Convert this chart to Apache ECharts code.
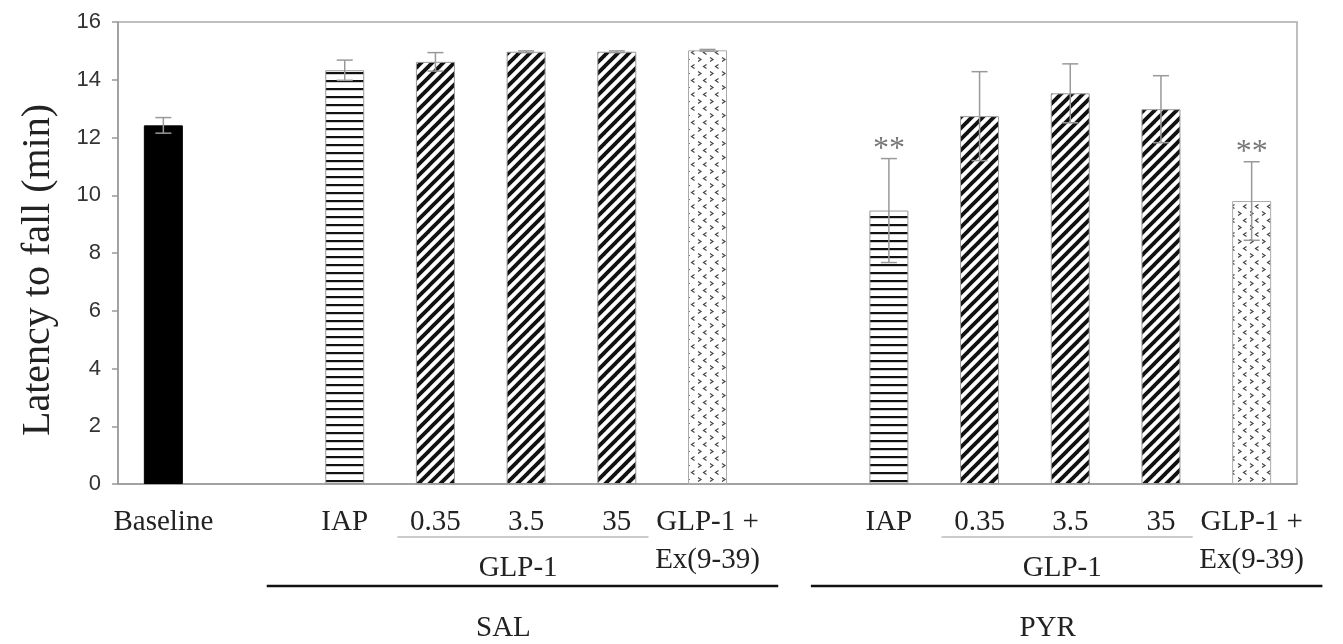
<!DOCTYPE html>
<html><head><meta charset="utf-8">
<script src="https://cdn.jsdelivr.net/npm/echarts@6/dist/echarts.min.js"></script>
<style>html,body{margin:0;padding:0;background:#fff}#c{width:1343px;height:644px}</style>
</head><body><div id="c"></div>
<script>
// ---- data ----
const categories = ['Baseline', '', 'IAP', '0.35', '3.5', '35', 'GLP-1 +\nEx(9-39)', '', 'IAP', '0.35', '3.5', '35', 'GLP-1 +\nEx(9-39)'];
const means = [12.42, null, 14.33, 14.62, 14.97, 14.97, 15.02, null, 9.47, 12.74, 13.53, 12.98, 9.80];
const sems  = [0.27, null, 0.35, 0.32, 0.03, 0.03, 0.03, null, 1.80, 1.54, 1.02, 1.16, 1.36];
const signif = ['', '', '', '', '', '', '', '', '**', '', '', '', '**'];
const yTicks = [0, 2, 4, 6, 8, 10, 12, 14, 16];
const groups = [
  {name: 'SAL', sub: 'GLP-1', first: 2, subFirst: 3, subLast: 5, last: 6},
  {name: 'PYR', sub: 'GLP-1', first: 8, subFirst: 9, subLast: 11, last: 12}
];

// ---- patterns ----
function mk(w, h, draw) { const c = document.createElement('canvas'); c.width = w; c.height = h; const g = c.getContext('2d'); g.fillStyle = '#fff'; g.fillRect(0, 0, w, h); draw(g); return c; }
const hStripe = mk(8, 8, g => { g.fillStyle = '#111'; g.fillRect(0, 0, 8, 2.2); });
const diag = mk(11, 11, g => { g.strokeStyle = '#111'; g.lineWidth = 3.8; g.lineCap = 'square';
  for (const o of [-11, 0, 11]) { g.beginPath(); g.moveTo(o - 2, 13); g.lineTo(o + 13, -2); g.stroke(); } });
const dots = mk(12, 14, g => { g.strokeStyle = '#444'; g.lineWidth = 1.2;
  g.beginPath(); g.moveTo(2, 1.5); g.lineTo(5, 3.5); g.lineTo(2, 5.5); g.stroke();
  g.beginPath(); g.moveTo(10.5, 8.5); g.lineTo(7.5, 10.5); g.lineTo(10.5, 12.5); g.stroke(); });
function styleFor(cat) {
  if (cat === 'Baseline') return {color: '#000', borderColor: '#000', borderWidth: 1};
  if (cat === 'IAP') return {color: {image: hStripe, repeat: 'repeat'}, borderColor: '#999', borderWidth: 1};
  if (cat.indexOf('GLP') === 0) return {color: {image: dots, repeat: 'repeat'}, borderColor: '#aaa', borderWidth: 1};
  return {color: {image: diag, repeat: 'repeat'}, borderColor: '#999', borderWidth: 1};
}

const serif = '"Liberation Serif", "Times New Roman", serif';
const sans = '"Liberation Sans", Arial, sans-serif';
const labFont = 29;

const chart = echarts.init(document.getElementById('c'), null, {renderer: 'canvas'});
chart.setOption({
  animation: false,
  backgroundColor: '#fff',
  grid: {left: 118, right: 46, top: 22, bottom: 160, show: true, borderColor: '#aaa', borderWidth: 1.5},
  xAxis: {
    type: 'category', data: categories,
    axisLine: {lineStyle: {color: '#999', width: 1.5}},
    axisTick: {show: false},
    axisLabel: {interval: 0, fontFamily: serif, fontSize: labFont, color: '#222', margin: 19, lineHeight: 38}
  },
  yAxis: {
    type: 'value', min: 0, max: 16, interval: 2,
    name: 'Latency to fall (min)', nameLocation: 'middle', nameGap: 60,
    nameTextStyle: {fontFamily: serif, fontSize: 40, color: '#222', padding: [0, 34, 0, 0]},
    axisLine: {show: true, lineStyle: {color: '#999', width: 1.5}},
    axisTick: {show: true, length: 6, lineStyle: {color: '#999', width: 1.5}},
    splitLine: {show: false},
    axisLabel: {fontFamily: sans, fontSize: 22, color: '#333', margin: 17,
      formatter: v => yTicks.indexOf(v) >= 0 ? String(v) : ''}
  },
  series: [
    {
      type: 'bar', barWidth: 39,
      data: means.map((v, i) => ({value: v, itemStyle: styleFor(categories[i])}))
    },
    {
      type: 'custom', z: 5,
      data: means.map((v, i) => [i, v, sems[i]]),
      renderItem: function (params, api) {
        const i = params.dataIndex;
        if (means[i] == null) return;
        const m = means[i], e = sems[i];
        const top = api.coord([i, m + e]);
        const bot = api.coord([i, m - e]);
        const half = 8;
        const st = {stroke: '#999', lineWidth: 1.5};
        const ch = [
          {type: 'line', shape: {x1: top[0], y1: top[1], x2: bot[0], y2: bot[1]}, style: st},
          {type: 'line', shape: {x1: top[0] - half, y1: top[1], x2: top[0] + half, y2: top[1]}, style: st},
          {type: 'line', shape: {x1: bot[0] - half, y1: bot[1], x2: bot[0] + half, y2: bot[1]}, style: st}
        ];
        if (signif[i]) ch.push({type: 'text', style: {text: signif[i], x: top[0], y: top[1] + 7, align: 'center', verticalAlign: 'bottom',
          font: '32px ' + serif, fill: '#777'}});
        return {type: 'group', children: ch};
      }
    }
  ]
});

// ---- group annotations below the axis, placed from the category scale ----
function cx(i) { return chart.convertToPixel({xAxisIndex: 0}, i); }
const slot = cx(1) - cx(0);
const gr = [];
groups.forEach(gp => {
  const s1 = cx(gp.subFirst) - 0.42 * slot, s2 = cx(gp.subLast) + 0.35 * slot;
  const b1 = cx(gp.first) - 0.86 * slot, b2 = cx(gp.last) + 0.78 * slot;
  const mid = cx(Math.round((gp.subFirst + gp.subLast) / 2));
  gr.push({type: 'line', shape: {x1: s1, y1: 537, x2: s2, y2: 537}, style: {stroke: '#bbb', lineWidth: 1.5}});
  gr.push({type: 'text', x: mid - 8, y: 568, style: {text: gp.sub, font: labFont + 'px ' + serif, fill: '#222', align: 'center', verticalAlign: 'middle'}});
  gr.push({type: 'line', shape: {x1: b1, y1: 586, x2: b2, y2: 586}, style: {stroke: '#111', lineWidth: 2.5}});
  gr.push({type: 'text', x: mid - 0.25 * slot, y: 628, style: {text: gp.name, font: labFont + 'px ' + serif, fill: '#222', align: 'center', verticalAlign: 'middle'}});
});
chart.setOption({graphic: gr});
</script>
</body></html>
